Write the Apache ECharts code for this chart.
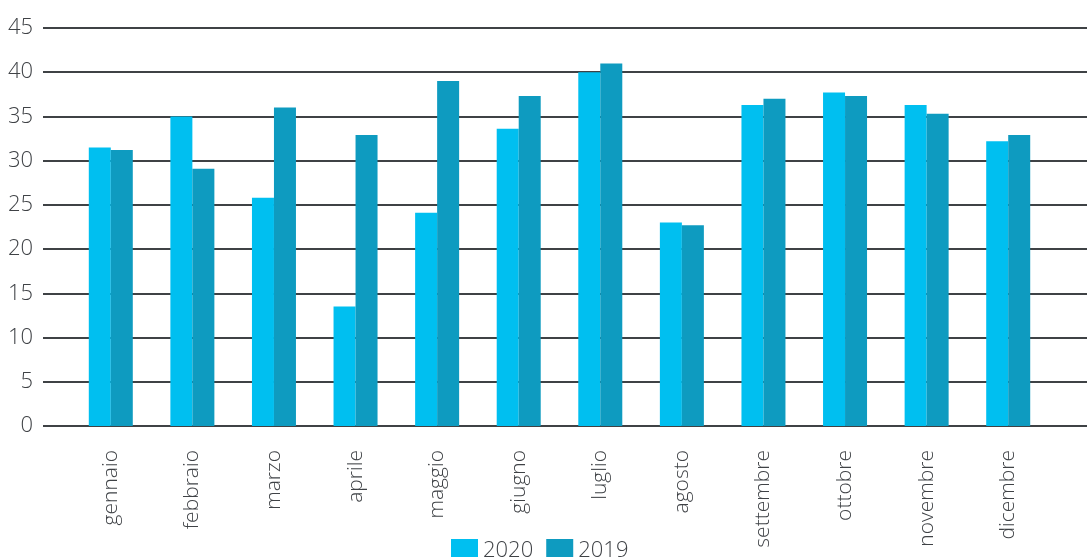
<!DOCTYPE html>
<html>
<head>
<meta charset="utf-8">
<script src="https://cdn.jsdelivr.net/npm/echarts@6/dist/echarts.min.js"></script>
<style>
html,body{margin:0;padding:0;background:#fff;}
#c{width:1087px;height:557px;}
</style>
</head>
<body>
<div id="c"></div>
<script>
var months = ['gennaio','febbraio','marzo','aprile','maggio','giugno','luglio','agosto','settembre','ottobre','novembre','dicembre'];
var values2020 = [31.5, 35.0, 25.8, 13.5, 24.1, 33.6, 40.0, 23.0, 36.3, 37.7, 36.3, 32.2];
var values2019 = [31.2, 29.1, 36.0, 32.9, 39.0, 37.3, 41.0, 22.7, 37.0, 37.3, 35.3, 32.9];
var yTicks = [0, 5, 10, 15, 20, 25, 30, 35, 40, 45];

var font = '"Open Sans", "Noto Sans", sans-serif';
var textColor = '#3f4246';
var chart = echarts.init(document.getElementById('c'));
chart.setOption({
  animation: false,
  backgroundColor: '#fff',
  grid: [
    {left: 43, right: 0, top: 28, bottom: 131},
    {left: 70, right: 38, top: 28, bottom: 131}
  ],
  legend: {
    data: ['2020', '2019'],
    left: 446,
    top: 534,
    itemWidth: 27,
    itemHeight: 23,
    itemGap: 13,
    icon: 'rect',
    textStyle: {fontFamily: font, fontSize: 22, fontWeight: 300, color: textColor, padding: [0,0,0,0]}
  },
  xAxis: [
    {gridIndex: 0, type: 'value', show: false, min: 0, max: 1},
    {gridIndex: 1, type: 'category', data: months,
     axisLine: {show: false}, axisTick: {show: false},
     axisLabel: {rotate: 90, margin: 24, fontFamily: font, fontSize: 21, fontWeight: 300, color: textColor}}
  ],
  yAxis: [
    {gridIndex: 0, type: 'value', min: yTicks[0], max: yTicks[yTicks.length-1], interval: 5,
     axisLine: {show: false}, axisTick: {show: false},
     axisLabel: {margin: 10, fontFamily: font, fontSize: 22, fontWeight: 300, color: textColor}},
    {gridIndex: 1, type: 'value', min: yTicks[0], max: yTicks[yTicks.length-1], interval: 5, show: false,
     splitLine: {show: false}}
  ].map(function (a, i) {
    if (i === 0) a.splitLine = {lineStyle: {color: '#3f4245', width: 2}};
    return a;
  }),
  series: [
    {name: '2020', type: 'bar', xAxisIndex: 1, yAxisIndex: 1, data: values2020,
     barWidth: 22, barGap: '0%', itemStyle: {color: '#00bff0'}, z: 3},
    {name: '2019', type: 'bar', xAxisIndex: 1, yAxisIndex: 1, data: values2019,
     barWidth: 22, barGap: '0%', itemStyle: {color: '#0e9bc0'}, z: 3}
  ]
});
</script>
</body>
</html>
